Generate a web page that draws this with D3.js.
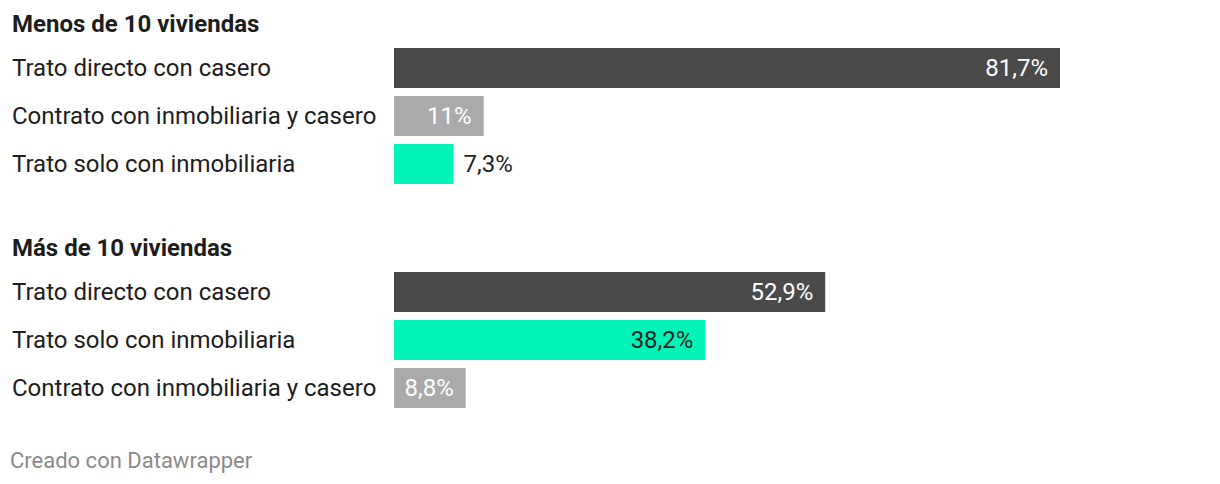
<!DOCTYPE html>
<html><head><meta charset="utf-8">
<script src="https://cdn.jsdelivr.net/npm/d3@7"></script>
<style>
body{margin:0;background:#fff;}
svg text{font-family:Roboto,sans-serif;}
</style></head>
<body><svg id="c" width="1220" height="484"></svg>
<script>
const groupTitles = ["Menos de 10 viviendas", "Más de 10 viviendas"];
const group1Categories = ["Trato directo con casero", "Contrato con inmobiliaria y casero", "Trato solo con inmobiliaria"];
const group1Values = [81.7, 11, 7.3];
const group2Categories = ["Trato directo con casero", "Trato solo con inmobiliaria", "Contrato con inmobiliaria y casero"];
const group2Values = [52.9, 38.2, 8.8];
const footer = "Creado con Datawrapper";

const colorOf = {
  "Trato directo con casero": "#4a4a4a",
  "Contrato con inmobiliaria y casero": "#aaaaaa",
  "Trato solo con inmobiliaria": "#00f4b7"
};
const labelColorOf = {
  "Trato directo con casero": "#ffffff",
  "Contrato con inmobiliaria y casero": "#ffffff",
  "Trato solo con inmobiliaria": "#222222"
};

const svg = d3.select("#c");
const x = d3.scaleLinear().domain([0, 81.7]).range([394, 1060]);
const fmt = v => String(v).replace(".", ",") + "%";

const groups = [
  {title: groupTitles[0], cats: group1Categories, vals: group1Values, top: 0},
  {title: groupTitles[1], cats: group2Categories, vals: group2Values, top: 224}
];

groups.forEach(g => {
  const G = svg.append("g").attr("transform", `translate(0,${g.top})`);
  G.append("text").attr("x", 12).attr("y", 32)
    .attr("font-size", 24).attr("font-weight", 700).attr("fill", "#1d1d1d")
    .text(g.title);
  const n = g.cats.length;
  const y = d3.scaleBand().domain(g.cats).range([48, 48 + 48 * n - 8]).paddingInner(8/48).paddingOuter(0);
  const data = g.cats.map((c, i) => ({c, v: g.vals[i]}));
  const row = G.selectAll("g.row").data(data).join("g").attr("class", "row");
  row.append("text").attr("x", 12).attr("y", d => y(d.c) + y.bandwidth() / 2)
    .attr("dy", "0.35em").attr("font-size", 24).attr("fill", "#1d1d1d").text(d => d.c);
  row.append("rect").attr("x", x(0)).attr("y", d => y(d.c))
    .attr("width", d => x(d.v) - x(0)).attr("height", y.bandwidth())
    .attr("fill", d => colorOf[d.c]);
  const inside = d => (x(d.v) - x(0) > 70);
  row.append("text")
    .attr("x", d => inside(d) ? x(d.v) - 12 : x(d.v) + 10)
    .attr("text-anchor", d => inside(d) ? "end" : "start")
    .attr("y", d => y(d.c) + y.bandwidth() / 2).attr("dy", "0.35em").attr("font-size", 24)
    .attr("fill", d => inside(d) ? labelColorOf[d.c] : "#222222")
    .text(d => fmt(d.v));
});

svg.append("text").attr("x", 10).attr("y", 468).attr("font-size", 22)
  .attr("fill", "#8a8a8a").text(footer);
</script></body></html>
